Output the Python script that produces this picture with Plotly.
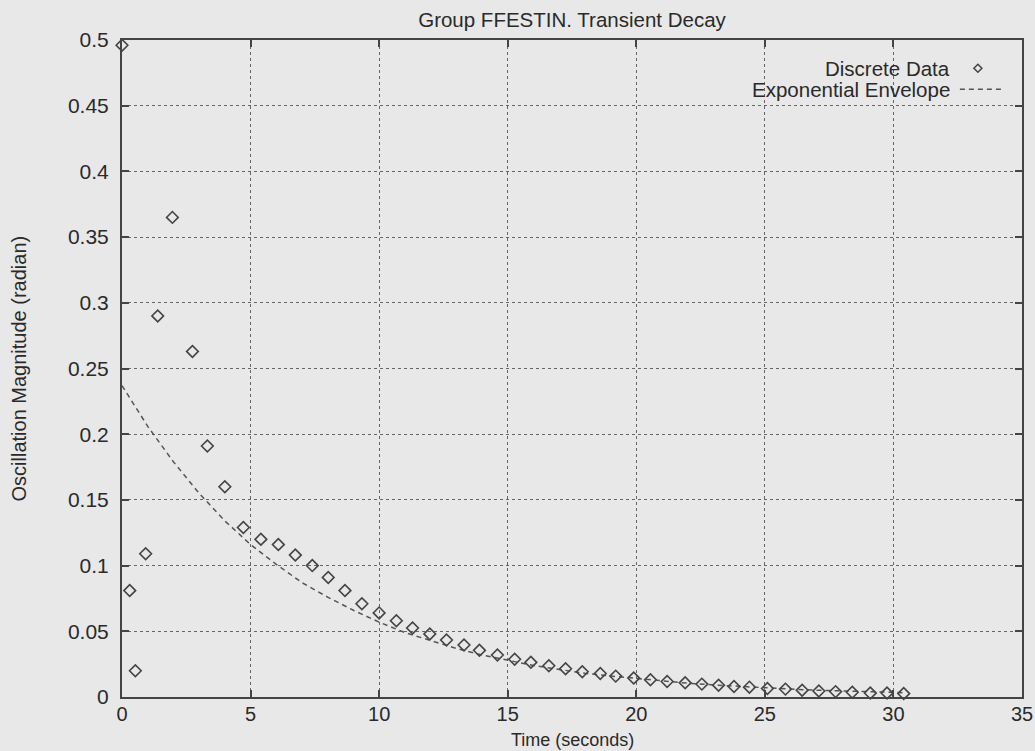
import plotly.graph_objects as go

# Discrete data (time in seconds, magnitude in radian)
data_t = [0.0, 0.30, 0.52, 0.92, 1.39, 1.96, 2.74, 3.32, 4.00, 4.72,
          5.40, 6.08, 6.74, 7.40, 8.02, 8.67, 9.33, 10.0, 10.67, 11.3,
          11.97, 12.62, 13.3, 13.9, 14.6, 15.27, 15.9, 16.6, 17.25, 17.9,
          18.6, 19.2, 19.9, 20.55, 21.2, 21.9, 22.55, 23.2, 23.8, 24.4,
          25.1, 25.8, 26.45, 27.1, 27.75, 28.4, 29.1, 29.75, 30.4]
data_mag = [0.496, 0.081, 0.020, 0.109, 0.290, 0.365, 0.263, 0.191, 0.160, 0.129,
            0.120, 0.116, 0.108, 0.100, 0.091, 0.081, 0.071, 0.064, 0.058, 0.0525,
            0.048, 0.0434, 0.0396, 0.0355, 0.032, 0.0287, 0.0264, 0.0238, 0.0215, 0.0192,
            0.0179, 0.0159, 0.0144, 0.0131, 0.0118, 0.0108, 0.0098, 0.009, 0.008, 0.0075,
            0.0065, 0.006, 0.0052, 0.0046, 0.0041, 0.0036, 0.003, 0.003, 0.0026]

# Exponential envelope
env_t = [0, 1, 2, 3, 4, 5, 6, 7, 8, 9, 10, 11, 12, 13, 14, 15, 16, 17, 18, 19,
         20, 21, 22, 23, 24, 25, 26, 27, 28, 29, 30, 30.4]
env_mag = [0.237, 0.206, 0.179, 0.155, 0.134, 0.116, 0.101, 0.087, 0.076, 0.066,
           0.057, 0.049, 0.043, 0.037, 0.032, 0.028, 0.024, 0.021, 0.018, 0.016,
           0.014, 0.012, 0.0105, 0.0092, 0.008, 0.007, 0.006, 0.0052, 0.0046, 0.004,
           0.0035, 0.0033]

x_ticks = [0, 5, 10, 15, 20, 25, 30, 35]
y_ticks = [0, 0.05, 0.1, 0.15, 0.2, 0.25, 0.3, 0.35, 0.4, 0.45, 0.5]

BG = "#e8e8e8"
INK = "#2a2a2a"
FONT = "Liberation Sans, Arial, sans-serif"

fig = go.Figure()
fig.add_trace(go.Scatter(
    x=env_t, y=env_mag, mode="lines", name="Exponential Envelope",
    line=dict(color="#555555", width=1.5, dash="5px,4px"), showlegend=False))
fig.add_trace(go.Scatter(
    x=data_t, y=data_mag, mode="markers", name="Discrete Data",
    marker=dict(symbol="diamond-open", size=9, color="#444444",
                line=dict(width=1.6, color="#444444")),
    showlegend=False, cliponaxis=False))

axis_common = dict(
    showline=True, linecolor="#444444", linewidth=2, mirror="ticks",
    ticks="inside", ticklen=7, tickwidth=1.5, tickcolor="#444444",
    showgrid=True, gridcolor="#666666", gridwidth=1, griddash="dot",
    zeroline=False, automargin=False,
)

fig.update_xaxes(range=[0, 35], tickvals=x_ticks, ticktext=[str(v) for v in x_ticks],
                 ticklabelstandoff=-2, tickfont=dict(family=FONT, size=20, color=INK),
                 **axis_common)
fig.update_yaxes(range=[0, 0.5], tickvals=y_ticks, ticktext=[f"{v:g}" for v in y_ticks],
                 ticklabelstandoff=7, tickfont=dict(family=FONT, size=21, color=INK),
                 **axis_common)

# Axis titles placed as in the reference
fig.add_annotation(x=0.5, y=-(740 - 697) / 657, xref="paper", yref="paper",
                   xanchor="center", yanchor="middle", showarrow=False, borderpad=0,
                   text="Time (seconds)", font=dict(family=FONT, size=18, color=INK))
fig.add_annotation(x=(18 - 122) / 900, y=0.5, xref="paper", yref="paper",
                   xanchor="center", yanchor="middle", showarrow=False, textangle=-90,
                   text="Oscillation Magnitude (radian)",
                   font=dict(family=FONT, size=20, color=INK))

# Legend (gnuplot style: text right-aligned, sample on the right)
fig.add_annotation(x=0.922, y=0.957, xref="paper", yref="paper", xanchor="right",
                   yanchor="middle", showarrow=False, text="Discrete Data",
                   font=dict(family=FONT, size=20.5, color=INK))
fig.add_annotation(x=0.922, y=0.925, xref="paper", yref="paper", xanchor="right",
                   yanchor="middle", showarrow=False, text="Exponential Envelope",
                   font=dict(family=FONT, size=20.5, color=INK))
fig.add_shape(type="path", xref="paper", yref="paper", xsizemode="pixel", ysizemode="pixel",
              xanchor=0.951, yanchor=0.957, path="M -4 0 L 0 4 L 4 0 L 0 -4 Z",
              line=dict(color="#444444", width=1.5))
fig.add_shape(type="line", xref="paper", yref="paper", x0=0.931, x1=0.978, y0=0.925, y1=0.925,
              line=dict(color="#555555", width=1.5, dash="5px,4px"))

fig.update_layout(
    width=1035, height=751,
    paper_bgcolor=BG, plot_bgcolor=BG,
    margin=dict(l=122, r=13, t=40, b=54),
    title=dict(text="Group FFESTIN. Transient Decay", x=0.5, xref="paper",
               y=1 - 20 / 751, yanchor="middle",
               font=dict(family=FONT, size=20.5, color=INK)),
    font=dict(family=FONT, color=INK),
)

fig.write_html(
    "out.html",
    config={"displayModeBar": False},
    post_script="document.body.style.margin='0';document.body.style.overflow='hidden';"
                "document.body.style.background='#e8e8e8';",
)
